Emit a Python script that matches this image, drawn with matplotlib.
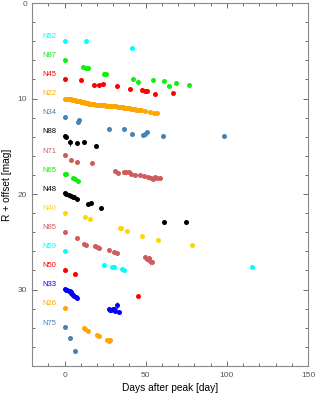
import matplotlib
matplotlib.use("Agg")
import matplotlib.pyplot as plt
from matplotlib.ticker import MultipleLocator

plt.rcParams['font.family'] = ['Liberation Sans', 'DejaVu Sans']

# ---- data (days after peak, R + offset) ----
names = ["N52", "N87", "N45", "N22", "N34", "N88", "N71", "N65",
         "N48", "N40", "N85", "N59", "N50", "N33", "N26", "N75"]
offsets = [4, 6, 8, 10, 12, 14, 16, 18, 20, 22, 24, 26, 28, 30, 32, 34]
colors = ["cyan", "#11ee11", "red", "orange", "steelblue", "black", "indianred", "#11ee11",
          "black", "gold", "indianred", "cyan", "red", "blue", "orange", "steelblue"]

N52_t = [0, 13.3, 41.6]
N52_m = [3.97, 3.97, 4.67]

N87_t = [0, 11.3, 13.3, 14.3, 24.2, 25.6, 42.4, 45.1, 54.5, 61.3, 64.3, 68.4, 76.8]
N87_m = [5.96, 6.69, 6.76, 6.79, 7.39, 7.42, 8.0, 8.29, 8.1, 8.15, 8.64, 8.36, 8.6]

N45_t = [0, 10.3, 18.4, 21.3, 23.4, 32.4, 40.6, 47.7, 49.4, 51.0, 55.7, 66.8]
N45_m = [7.94, 8.05, 8.54, 8.54, 8.5, 8.74, 9.02, 9.12, 9.2, 9.2, 9.48, 9.37]

N22_t = [0, 0.8, 1.6, 2.4, 3.2, 4.0, 4.8, 5.6, 6.4, 7.2, 8.0, 8.8, 9.6, 10.4, 11.2, 12.0,
         12.8, 13.6, 14.4, 15.2, 16.0, 16.8, 17.6, 18.4, 19.2, 20.0, 20.8, 21.6, 22.4, 23.2,
         24.0, 24.8, 25.6, 26.4, 27.2, 28.0, 28.8, 29.6, 30.4, 31.2, 32.0, 32.8, 33.6, 34.4,
         35.2, 36.0, 36.8, 37.6, 38.4, 39.2, 40.0, 40.8, 41.6, 42.4, 43.2, 44.0, 44.8, 45.6,
         46.4, 47.2, 49.8, 52.9, 55.2, 57.0]
N22_m = [10.0, 10.02, 10.03, 10.05, 10.06, 10.08, 10.11, 10.15, 10.18, 10.21, 10.24, 10.27,
         10.3, 10.32, 10.36, 10.41, 10.43, 10.45, 10.5, 10.53, 10.55, 10.57, 10.6, 10.62, 10.64,
         10.66, 10.66, 10.68, 10.7, 10.72, 10.73, 10.73, 10.74, 10.75, 10.76, 10.76, 10.77,
         10.78, 10.8, 10.82, 10.83, 10.85, 10.88, 10.86, 10.9, 10.93, 10.96, 10.98, 11.0,
         11.02, 11.04, 11.06, 11.08, 11.1, 11.12, 11.15, 11.18, 11.2, 11.22, 11.25, 11.35,
         11.46, 11.5, 11.53]

N34_t = [0, 8.2, 9.2, 27.4, 36.5, 41.7, 48.4, 49.6, 50.8, 60.6, 97.9]
N34_m = [11.95, 12.47, 12.23, 13.24, 13.17, 13.72, 13.87, 13.76, 13.55, 13.9, 13.9]

N88_t = [0, 1.2, 3.1, 7.6, 12.3, 19.5]
N88_m = [13.9, 14.07, 14.6, 14.66, 14.6, 15.0]

N71_t = [0, 4.1, 7.4, 17.2, 31.3, 32.8, 36.5, 38.0, 39.5, 41.0, 43.2, 46.7, 49.0,
         51.2, 53.0, 54.5, 55.5, 57.0, 58.5]
N71_m = [15.88, 16.44, 16.68, 16.75, 17.6, 17.8, 17.73, 17.7, 17.73, 17.85, 18.0, 18.0,
         18.1, 18.25, 18.3, 18.4, 18.25, 18.35, 18.3]

N65_t = [0, 1.2, 5.3, 6.6, 8.4]
N65_m = [17.9, 17.9, 18.36, 18.39, 18.6]

N48_t = [0, 1.2, 2.6, 3.9, 5.1, 6.1, 7.6, 14.3, 16.4, 22.3, 61.5, 74.8]
N48_m = [19.9, 19.96, 20.1, 20.24, 20.3, 20.34, 20.48, 21.04, 20.9, 21.45, 22.9, 22.9]

N40_t = [0, 12.8, 15.8, 34.0, 35.0, 38.5, 47.5, 57.6, 78.7]
N40_m = [21.94, 22.43, 22.57, 23.6, 23.6, 23.85, 24.4, 24.76, 25.36]

N85_t = [0, 7.4, 12.3, 13.5, 18.6, 20.1, 21.3, 27.2, 30.3, 32.4, 49.4, 50.8, 52.1, 52.7, 53.9]
N85_m = [23.97, 24.6, 25.2, 25.36, 25.4, 25.5, 25.6, 25.85, 26.1, 26.15, 26.6, 26.85,
         26.7, 26.96, 27.1]

N59_t = [0, 24.2, 29.3, 30.3, 35.4, 36.5, 115.7]
N59_m = [25.95, 27.4, 27.6, 27.6, 27.83, 27.93, 27.6]

N50_t = [0, 6.3, 45.3]
N50_m = [27.97, 28.4, 30.65]

N33_t = [0, 1.0, 1.8, 2.5, 3.1, 3.7, 4.3, 4.9, 5.5, 6.1, 6.8, 7.4,
         27.2, 28.0, 28.9, 29.7, 30.5, 31.3, 32.4, 33.4]
N33_m = [29.96, 30.0, 30.07, 30.13, 30.2, 30.27, 30.33, 30.47, 30.6, 30.7, 30.8, 30.93,
         32.08, 32.1, 32.1, 32.05, 32.08, 32.2, 31.66, 32.3]

N26_t = [0, 12.1, 12.9, 14.3, 20.1, 21.3, 26.2, 27.2, 28.3]
N26_m = [31.97, 34.0, 34.17, 34.3, 34.72, 34.83, 35.29, 35.35, 35.32]

N75_t = [0, 3.3, 6.3]
N75_m = [33.96, 35.07, 36.4]

series_t = [N52_t, N87_t, N45_t, N22_t, N34_t, N88_t, N71_t, N65_t,
            N48_t, N40_t, N85_t, N59_t, N50_t, N33_t, N26_t, N75_t]
series_m = [N52_m, N87_m, N45_m, N22_m, N34_m, N88_m, N71_m, N65_m,
            N48_m, N40_m, N85_m, N59_m, N50_m, N33_m, N26_m, N75_m]

# a few points with visible error bars: (series index, day, mag, err)
err_pts = [(1, 45.1, 8.29, 0.3), (5, 3.1, 14.6, 0.35), (10, 52.7, 26.96, 0.45),
           (13, 32.4, 31.66, 0.35)]

fig = plt.figure(figsize=(3.17, 4.0), dpi=100)
ax = fig.add_axes([0.101, 0.085, 0.871, 0.9075])

for name, off, c, t, m in zip(names, offsets, colors, series_t, series_m):
    ax.scatter(t, m, s=13, color=c, linewidths=0, zorder=3)
    ax.text(-13.5, off - 0.5, name, color=c, fontsize=5.5, ha='left', va='center')

for idx, t, m, e in err_pts:
    ax.errorbar([t], [m], yerr=[e], fmt='none', ecolor=colors[idx], elinewidth=0.6, zorder=2)

ax.set_xlim(-20, 150)
ax.set_ylim(38, 0)
ax.xaxis.set_major_locator(MultipleLocator(50))
ax.xaxis.set_minor_locator(MultipleLocator(10))
ax.yaxis.set_major_locator(MultipleLocator(10))
ax.yaxis.set_minor_locator(MultipleLocator(2))
ax.tick_params(which='both', direction='in', top=True, right=True,
               labelsize=6, colors='#555555', width=0.6)
ax.tick_params(which='major', length=3.5)
ax.tick_params(which='minor', length=2.5)
ax.tick_params(axis='x', pad=4)
for sp in ax.spines.values():
    sp.set_color('#888888')
    sp.set_linewidth(0.8)

ax.set_xlabel("Days after peak [day]", fontsize=7.3, labelpad=3)
ax.set_ylabel("R + offset [mag]", fontsize=7.3, labelpad=4)

fig.savefig("out.png", dpi=100)
